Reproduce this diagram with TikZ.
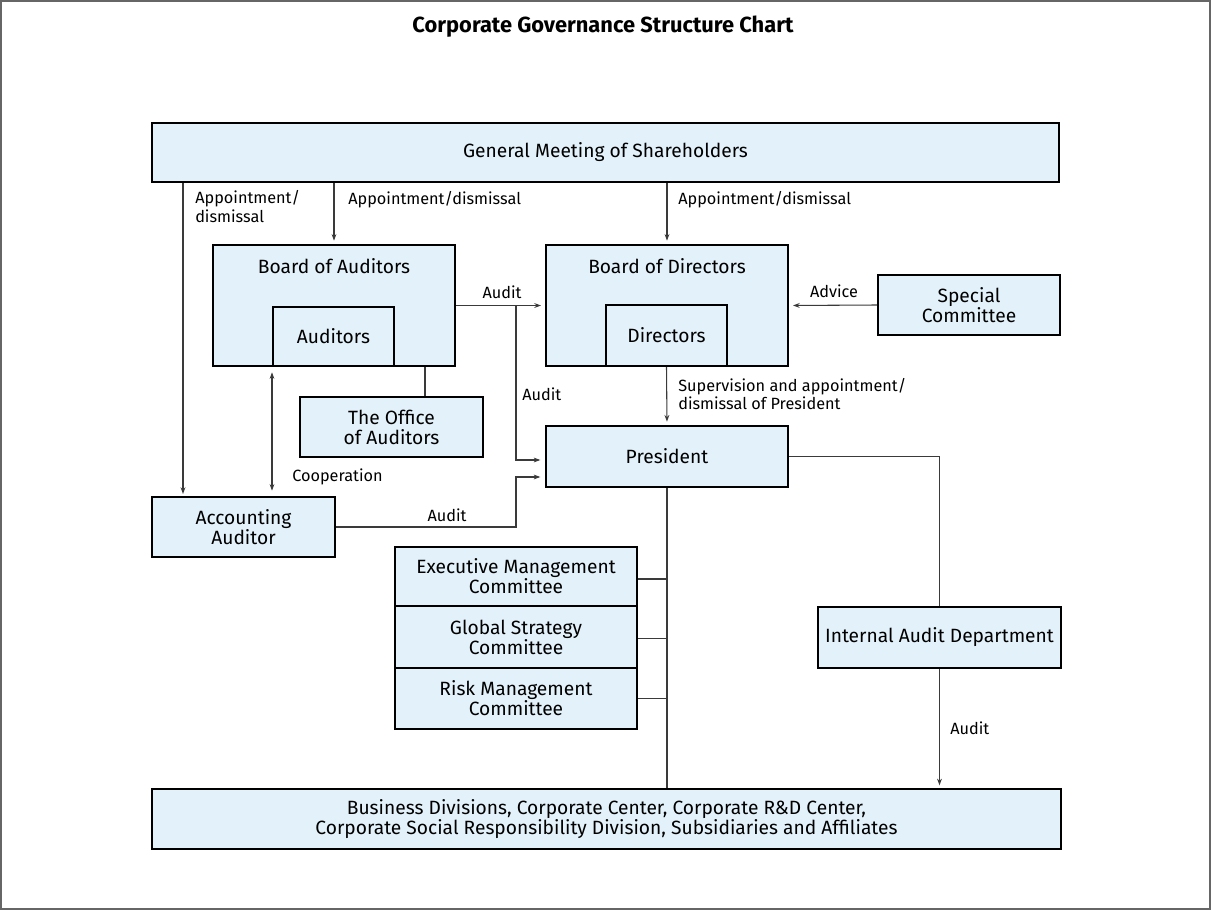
\documentclass[tikz,border=0pt]{standalone}
\usepackage{fontspec}
\setmainfont{Fira Sans}
\usetikzlibrary{arrows.meta,calc}
\definecolor{boxfill}{HTML}{E3F2FA}
\definecolor{linegray}{HTML}{3A3A3A}
\tikzset{
  boxfont/.style={font=\fontsize{14.4}{15}\selectfont},
  box/.style={draw=black, line width=1.5pt, fill=boxfill, inner sep=0pt, align=center, boxfont},
  lbl/.style={font=\fontsize{12.2}{14}\selectfont, inner sep=0pt, align=left},
  conn/.style={draw=linegray, line width=0.8pt},
  arr/.style={conn, -{Stealth[length=5pt,width=3.6pt]}},
  darr/.style={conn, {Stealth[length=5pt,width=3.6pt]}-{Stealth[length=5pt,width=3.6pt]}},
}
\newcommand\gbox[6]{\node[box, minimum width={(#4-#2)*0.75pt}, minimum height={(#5-#3)*0.75pt}] (#1) at ({(#2+#4)/2},{(#3+#5)/2}) {#6};}
\begin{document}
\begin{tikzpicture}[x=0.75pt,y=-0.75pt]
\useasboundingbox (0,0) rectangle (1211,910);
\draw[draw=gray!80!black, line width=1.2pt] (1,1) rectangle (1210,909);
\node[font=\bfseries\fontsize{16.4}{18}\selectfont] (title) at (603,27) {Corporate Governance Structure Chart};

% boxes
\gbox{gms}{152}{123}{1059}{182}{General Meeting of Shareholders}
\gbox{boa}{213}{245}{455}{366}{}
\node[boxfont] (boat) at (334,266) {Board of Auditors};
\gbox{aud}{273}{307}{394}{366}{Auditors}
\gbox{bod}{546}{245}{788}{366}{}
\node[boxfont] (bodt) at (667,266) {Board of Directors};
\gbox{dir}{606}{305}{727}{366}{Directors}
\gbox{sc}{878}{275}{1060}{335}{Special\\Committee}
\gbox{off}{300}{397}{483}{457}{The Office\\of Auditors}
\gbox{pres}{546}{426}{788}{487}{President}
\gbox{acc}{152}{497}{335}{557}{Accounting\\Auditor}
\gbox{exec}{395}{547}{637}{606}{Executive Management\\Committee}
\gbox{glob}{395}{606}{637}{668}{Global Strategy\\Committee}
\gbox{risk}{395}{668}{637}{729}{Risk Management\\Committee}
\gbox{iad}{818}{607}{1061}{668}{Internal Audit Department}
\gbox{bus}{152}{789}{1061}{849}{Business Divisions, Corporate Center, Corporate R\&D Center,\\Corporate Social Responsibility Division, Subsidiaries and Affiliates}

% connectors
\draw[arr] (183,0 |- gms.south) -- ($(183,0 |- acc.north)+(0,-2)$);
\draw[arr, shorten >=2.5pt] (gms.south -| boa.north) -- (boa.north);
\draw[arr, shorten >=2.5pt] (gms.south -| bod.north) -- (bod.north);
\draw[arr, shorten >=3pt] (sc.west) -- (bod.east);
\draw[arr, shorten >=3pt] (boa.east) -- (bod.west);
\coordinate (j1) at (516,0 |- boa.east);
\draw[arr, shorten >=3.5pt] (j1) |- ($(pres.west)+(0,3.5)$);
\draw[arr, shorten >=3.5pt] (acc.east) -- (j1 |- acc.east) |- ($(pres.west)+(0,20.5)$);
\draw[conn] (425,0 |- boa.south) -- (425,0 |- off.north);
\draw[darr, shorten >=4pt, shorten <=4pt] (aud.south west) -- (aud.south west |- acc.north);
\draw[arr, shorten >=2.5pt] (dir.south) -- (pres.north);
\draw[conn] (pres.east) -| (iad.north);
\draw[arr, shorten >=2pt] (iad.south) -- (iad.south |- bus.north);
\draw[conn] (pres.south) -- (pres.south |- bus.north);
\draw[conn] ($(exec.east)+(0,2.5)$) -- ($(exec.east -| pres.south)+(0,2.5)$);
\draw[conn] ($(glob.east)+(0,1.5)$) -- ($(glob.east -| pres.south)+(0,1.5)$);
\draw[conn] (risk.east) -- (risk.east -| pres.south);

% labels
\node[lbl, anchor=north west] (l1) at (195,190) {Appointment/\\dismissal};
\node[lbl, anchor=west] (l2) at (348,200) {Appointment/dismissal};
\node[lbl, anchor=west] (l3) at (678,200) {Appointment/dismissal};
\node[lbl] (l4) at (502,292) {Audit};
\node[lbl, anchor=west] (l5) at (522,394) {Audit};
\node[lbl] (l6) at (834,291) {Advice};
\node[lbl, anchor=west] (l7) at (292,477) {Cooperation};
\node[lbl] (l8) at (447,515) {Audit};
\node[lbl, anchor=west] (l9) at (678,394) {Supervision and appointment/\\dismissal of President};
\node[lbl, anchor=west] (l10) at (950,728) {Audit};
\end{tikzpicture}
\end{document}
